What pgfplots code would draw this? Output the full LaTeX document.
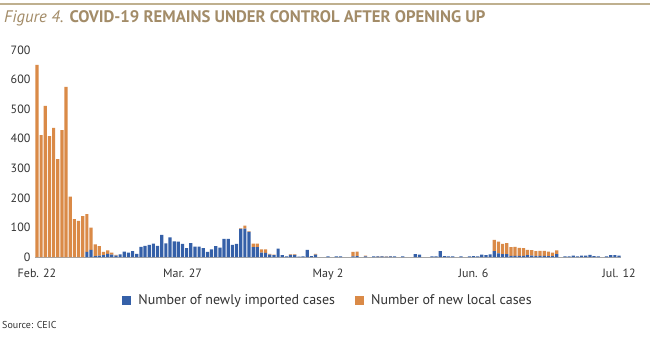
\documentclass[border=0pt]{standalone}
\usepackage{fontspec}
\setmainfont{PT Sans}
\usepackage{pgfplots}
\usepackage{pgfplotstable}
\pgfplotsset{compat=1.18}
\definecolor{impblue}{HTML}{3560A8}
\definecolor{locorange}{HTML}{DA8A47}
\definecolor{titlec}{HTML}{A38C68}
\definecolor{rulec}{HTML}{BFB08F}
\definecolor{tickc}{HTML}{333333}
\pgfplotstableread{
i imp loc
0 0 650
1 0 412
2 0 511
3 0 409
4 0 437
5 0 331
6 0 429
7 0 575
8 0 204
9 0 128
10 0 122
11 0 138
12 17 128
13 24 75
14 3 40
15 5 32
16 6 11
17 11 11
18 8 7
19 5 2
20 9 0
21 18 0
22 15 0
23 20 0
24 11 0
25 34 0
26 38 0
27 41 0
28 45 0
29 38 0
30 75 0
31 46 0
32 66 0
33 53 0
34 52 0
35 44 0
36 30 0
37 47 0
38 35 0
39 35 0
40 30 0
41 17 0
42 26 0
43 37 0
44 32 0
45 61 0
46 61 0
47 41 0
48 44 0
49 95 2
50 96 10
51 85 2
52 33 12
53 33 12
54 15 11
55 14 12
56 8 3
57 6 2
58 28 0
59 6 0
60 2 0
61 7 2
62 7 2
63 1 0
64 2 0
65 24 0
66 3 0
67 8 3
68 0 0
69 0 0
70 2 0
71 0 0
72 2 0
73 2 0
74 0 0
75 0 0
76 2 15
77 3 15
78 0 0
79 2 3
80 0 0
81 2 0
82 2 1
83 2 1
84 1 1
85 2 1
86 2 0
87 0 0
88 2 0
89 0 0
90 0 0
91 10 0
92 8 0
93 0 0
94 0 0
95 2 0
96 2 0
97 20 0
98 3 0
99 2 0
100 2 0
101 0 0
102 2 0
103 0 0
104 2 0
105 3 0
106 2 0
107 8 0
108 6 0
109 9 0
110 20 38
111 12 40
112 10 34
113 10 37
114 4 29
115 4 30
116 4 27
117 4 26
118 6 18
119 5 18
120 3 17
121 4 17
122 4 17
123 3 15
124 3 12
125 10 12
126 0 0
127 2 0
128 2 0
129 5 0
130 2 0
131 5 0
132 5 0
133 7 0
134 3 0
135 2 0
136 0 0
137 2 0
138 6 0
139 6 0
140 5 0
}\cases
\begin{document}
\begin{tikzpicture}[x=1pt,y=1pt]
\useasboundingbox (0,0) rectangle (650,338);
\fill[white] (0,0) rectangle (650,338);
\draw[rulec, line width=2pt] (0,334) -- (650,334);
\node[anchor=west, inner sep=0pt, text=titlec, font=\fontsize{16.7}{19}\selectfont] at (4,320)
  {\itshape Figure 4. \upshape\bfseries COVID-19 REMAINS UNDER CONTROL AFTER OPENING UP};
\node[anchor=west, inner sep=0pt, text=tickc, font=\fontsize{10}{12}\selectfont] at (2,13) {Source: CEIC};
\begin{axis}[
  at={(34.9pt,81pt)}, anchor=south west,
  scale only axis, width=586.2pt, height=207pt,
  xmin=-0.5, xmax=140.5, ymin=0, ymax=700,
  ybar stacked, bar width=3.2pt,
  axis x line*=bottom, axis y line*=left,
  x axis line style={draw=gray!70, line width=0.8pt},
  y axis line style={draw=none},
  tick style={draw=none},
  ytick={0,100,...,700},
  xtick={0,35,70,105,140},
  xticklabels={Feb. 22, Mar. 27, May 2, Jun. 6, Jul. 12},
  /pgf/number format/assume math mode=true,
  tick label style={font=\fontsize{12}{14}\selectfont, text=tickc},
  xticklabel style={yshift=-8pt},
  yticklabel style={xshift=-1pt},
  legend style={at={(0.5,-0.208)}, anchor=center, draw=none, fill=none,
    legend columns=2, font=\fontsize{14}{16}\selectfont, text=tickc,
    /tikz/every odd column/.append style={column sep=5pt},
    /tikz/every even column/.append style={column sep=18pt}},
  legend image code/.code={\fill[#1] (0pt,-4.5pt) rectangle (9pt,4.5pt);},
]
\addplot[fill=impblue, draw=none] table[x=i, y=imp] {\cases};
\addlegendentry{Number of newly imported cases}
\addplot[fill=locorange, draw=none] table[x=i, y=loc] {\cases};
\addlegendentry{Number of new local cases}
\end{axis}
\end{tikzpicture}
\end{document}
